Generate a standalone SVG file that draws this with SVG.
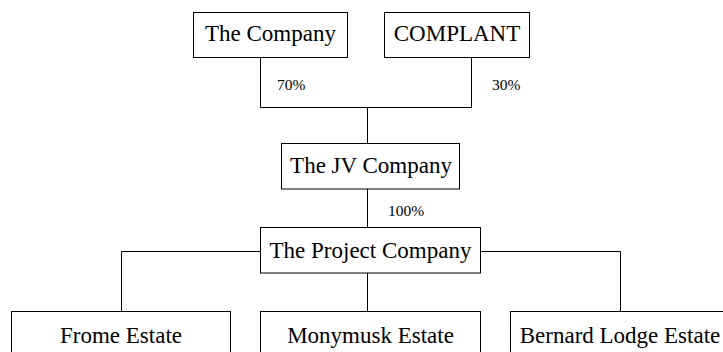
<svg xmlns="http://www.w3.org/2000/svg" width="723" height="352" viewBox="0 0 723 352">
<style>
.box{fill:#fff;stroke:#000;stroke-width:1}
.t{font-family:"Liberation Serif","Times New Roman",serif;font-size:23px;fill:#000;text-anchor:middle}
.p{font-family:"Liberation Serif","Times New Roman",serif;font-size:15.5px;fill:#000}
.c{fill:none;stroke:#000;stroke-width:1}
</style>
<rect width="723" height="352" fill="#fff"/>
<g id="connectors">
<path class="c" d="M260.5 57V107.5H471.5V57"/>
<path class="c" d="M367.5 107.5V143"/>
<path class="c" d="M367.5 189V227"/>
<path class="c" d="M260.5 251.5H121.5V311"/>
<path class="c" d="M480.5 251.5H620.5V311"/>
<path class="c" d="M367.5 273V311"/>
<text class="p" x="277" y="90">70%</text>
<text class="p" x="492" y="90">30%</text>
<text class="p" x="388" y="216">100%</text>
</g>
<g id="company"><rect class="box" x="193.5" y="12.5" width="154" height="45"/><text class="t" x="270.5" y="41">The Company</text></g>
<g id="complant"><rect class="box" x="384.5" y="12.5" width="145" height="45"/><text class="t" x="457" y="41">COMPLANT</text></g>
<g id="jv"><rect class="box" x="281.5" y="143.5" width="178" height="45.5"/><text class="t" x="371" y="173">The JV Company</text></g>
<g id="project"><rect class="box" x="260.5" y="227.5" width="220" height="45.5"/><text class="t" x="370.5" y="258">The Project Company</text></g>
<g id="frome"><rect class="box" x="11.5" y="311.5" width="219" height="46"/><text class="t" x="121" y="343">Frome Estate</text></g>
<g id="monymusk"><rect class="box" x="260.5" y="311.5" width="220" height="46"/><text class="t" x="370.5" y="343">Monymusk Estate</text></g>
<g id="bernard"><rect class="box" x="510.5" y="311.5" width="220" height="46"/><text class="t" x="620" y="343">Bernard Lodge Estate</text></g>
</svg>
